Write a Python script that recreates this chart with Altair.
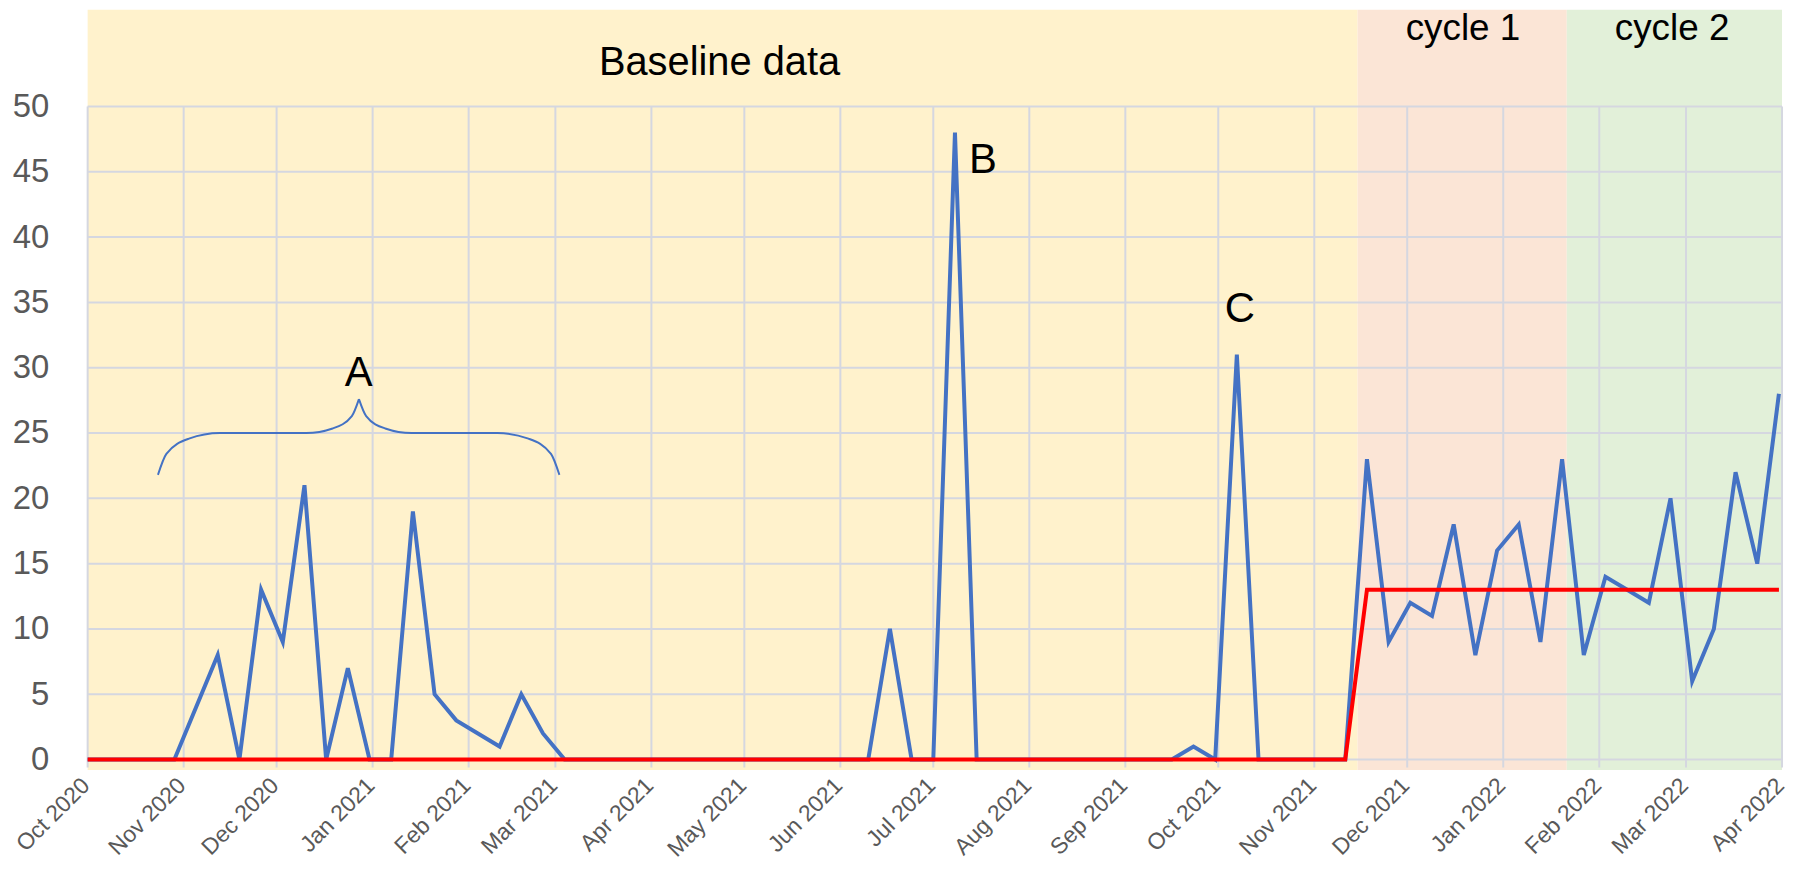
import altair as alt
import pandas as pd

# ---------------- data ----------------
# weekly observations (Thursdays), 1 Oct 2020 .. 31 Mar 2022
week_dates = pd.date_range("2020-10-01", periods=79, freq="7D").strftime("%Y-%m-%dT00:00:00").tolist()

weekly_counts = [
    0, 0, 0, 0, 0, 4, 8, 0, 13, 9,
    21, 0, 7, 0, 0, 19, 5, 3, 2, 1,
    5, 2, 0, 0, 0, 0, 0, 0, 0, 0,
    0, 0, 0, 0, 0, 0, 0, 10, 0, 0,
    48, 0, 0, 0, 0, 0, 0, 0, 0, 0,
    0, 1, 0, 31, 0, 0, 0, 0, 0, 23,
    9, 12, 11, 18, 8, 16, 18, 9, 23, 8,
    14, 13, 12, 20, 6, 10, 22, 15, 28,
]

median_line = [
    0, 0, 0, 0, 0, 0, 0, 0, 0, 0,
    0, 0, 0, 0, 0, 0, 0, 0, 0, 0,
    0, 0, 0, 0, 0, 0, 0, 0, 0, 0,
    0, 0, 0, 0, 0, 0, 0, 0, 0, 0,
    0, 0, 0, 0, 0, 0, 0, 0, 0, 0,
    0, 0, 0, 0, 0, 0, 0, 0, 0, 13,
    13, 13, 13, 13, 13, 13, 13, 13, 13, 13,
    13, 13, 13, 13, 13, 13, 13, 13, 13,
]

month_ticks = [
    (2020, 10), (2020, 11), (2020, 12), (2021, 1), (2021, 2), (2021, 3),
    (2021, 4), (2021, 5), (2021, 6), (2021, 7), (2021, 8), (2021, 9),
    (2021, 10), (2021, 11), (2021, 12), (2022, 1), (2022, 2), (2022, 3),
    (2022, 4),
]
y_ticks = [0, 5, 10, 15, 20, 25, 30, 35, 40, 45, 50]

phase_names = ["Baseline", "cycle 1", "cycle 2"]
phase_start = ["2020-10-01T00:00:00", "2021-11-15T00:00:00", "2022-01-21T12:00:00"]
phase_end = ["2021-11-15T00:00:00", "2022-01-21T12:00:00", "2022-04-01T00:00:00"]
phase_colors = ["#FFF2CC", "#FBE5D6", "#E2F0D9"]
phase_low = -0.8
phase_high = 57.4

ann_text = ["Baseline data", "cycle 1", "cycle 2", "A", "B", "C"]
ann_date = ["2021-04-23T00:00:00", "2021-12-19T00:00:00", "2022-02-24T12:00:00",
            "2020-12-27T12:00:00", "2021-07-17T00:00:00", "2021-10-08T00:00:00"]
ann_value = [52.4, 55.1, 55.1, 28.6, 44.9, 33.5]
ann_size = [40, 37, 37, 42, 42, 42]

# curly brace over group A: two halves meeting at the cusp
brace_half = ["left"] * 8 + ["right"] * 8
brace_date = [
    "2020-10-23T17:00:00", "2020-10-26T10:00:00", "2020-11-02T17:00:00", "2020-11-12T17:00:00",
    "2020-12-10T14:00:00", "2020-12-19T02:00:00", "2020-12-25T07:00:00", "2020-12-27T14:00:00",
    "2020-12-27T14:00:00", "2020-12-29T22:00:00", "2021-01-05T02:00:00", "2021-01-13T14:00:00",
    "2021-02-10T07:00:00", "2021-02-20T07:00:00", "2021-02-27T14:00:00", "2021-03-02T07:00:00",
]
brace_value = [
    21.8, 23.4, 24.57, 25.0, 25.0, 25.35, 26.3, 27.6,
    27.6, 26.3, 25.35, 25.0, 25.0, 24.57, 23.4, 21.8,
]

# ---------------- styling ----------------
FONT = "Liberation Sans, Arial, sans-serif"
GRID = "#D5D7E0"
BLUE = "#4472C4"
RED = "#FF0000"
LABEL = "#595959"

x_scale = alt.Scale(
    domain=[alt.DateTime(year=2020, month=10, date=1), alt.DateTime(year=2022, month=4, date=1)],
    nice=False,
)
y_scale = alt.Scale(domain=[0, 50], nice=False, zero=False)

x_axis = alt.Axis(
    values=[alt.DateTime(year=y, month=m, date=1) for (y, m) in month_ticks],
    format="%b %Y",
    labelAngle=-45,
    labelAlign="right",
    labelBaseline="middle",
    labelFont=FONT,
    labelFontSize=23,
    labelColor=LABEL,
    labelPadding=22,
    labelOffset=-2,
    labelFlush=False,
    labelOverlap=False,
    labelBound=False,
    grid=False,
    domain=False,
    ticks=False,
    tickSize=0,
    title=None,
)
y_axis = alt.Axis(
    values=y_ticks,
    labelFont=FONT,
    labelFontSize=33,
    labelColor=LABEL,
    labelPadding=39,
    labelOverlap=False,
    grid=False,
    domain=False,
    ticks=False,
    tickSize=0,
    title=None,
)

# ---------------- tables ----------------
series_df = pd.DataFrame({"date": week_dates, "count": weekly_counts, "median": median_line})
phase_df = pd.DataFrame({"phase": phase_names, "start": phase_start, "end": phase_end,
                         "color": phase_colors, "lo": phase_low, "hi": phase_high})
month_strings = [f"{y}-{m:02d}-01T00:00:00" for (y, m) in month_ticks]
vgrid_df = pd.DataFrame({"date": month_strings, "lo": -0.6, "hi": 50})
hgrid_df = pd.DataFrame({"value": y_ticks, "start": month_strings[0], "end": month_strings[-1]})
ann_df = pd.DataFrame({"text": ann_text, "date": ann_date, "value": ann_value, "size": ann_size})
brace_df = pd.DataFrame({"date": brace_date, "value": brace_value, "half": brace_half})


def X(field):
    return alt.X(field, scale=x_scale, axis=x_axis, title=None)


def Y(field):
    return alt.Y(field, scale=y_scale, axis=y_axis, title=None)


# ---------------- layers ----------------
phases = alt.Chart(phase_df).mark_rect(clip=False).encode(
    x=X("start:T"),
    x2="end:T",
    y=Y("lo:Q"),
    y2="hi:Q",
    color=alt.Color("color:N", scale=None, legend=None),
)

vgrid = alt.Chart(vgrid_df).mark_rule(color=GRID, strokeWidth=2).encode(
    x=X("date:T"),
    y=Y("lo:Q"),
    y2="hi:Q",
)

hgrid = alt.Chart(hgrid_df).mark_rule(color=GRID, strokeWidth=2).encode(
    y=Y("value:Q"),
    x=X("start:T"),
    x2="end:T",
)

brace = alt.Chart(brace_df).mark_line(interpolate="monotone", color=BLUE, strokeWidth=2).encode(
    x=X("date:T"),
    y=Y("value:Q"),
    detail="half:N",
)

blue = alt.Chart(series_df).mark_line(color=BLUE, strokeWidth=4, strokeJoin="miter").encode(
    x=X("date:T"),
    y=Y("count:Q"),
)

red = alt.Chart(series_df).mark_line(color=RED, strokeWidth=4).encode(
    x=X("date:T"),
    y=Y("median:Q"),
)

texts = alt.Chart(ann_df).mark_text(
    font=FONT, color="#000000", align="center", baseline="alphabetic"
).encode(
    x=X("date:T"),
    y=Y("value:Q"),
    text="text:N",
    size=alt.Size("size:Q", scale=None, legend=None),
)

chart = (
    alt.layer(phases, vgrid, hgrid, brace, blue, red, texts)
    .properties(
        width=1702,
        height=656,
        padding={"left": 80, "top": 97, "right": 6, "bottom": 106},
        autosize=alt.AutoSizeParams(type="none"),
        background="white",
    )
    .configure_view(stroke=None)
)

chart.save("out.html", embed_options={"renderer": "svg", "actions": False})
